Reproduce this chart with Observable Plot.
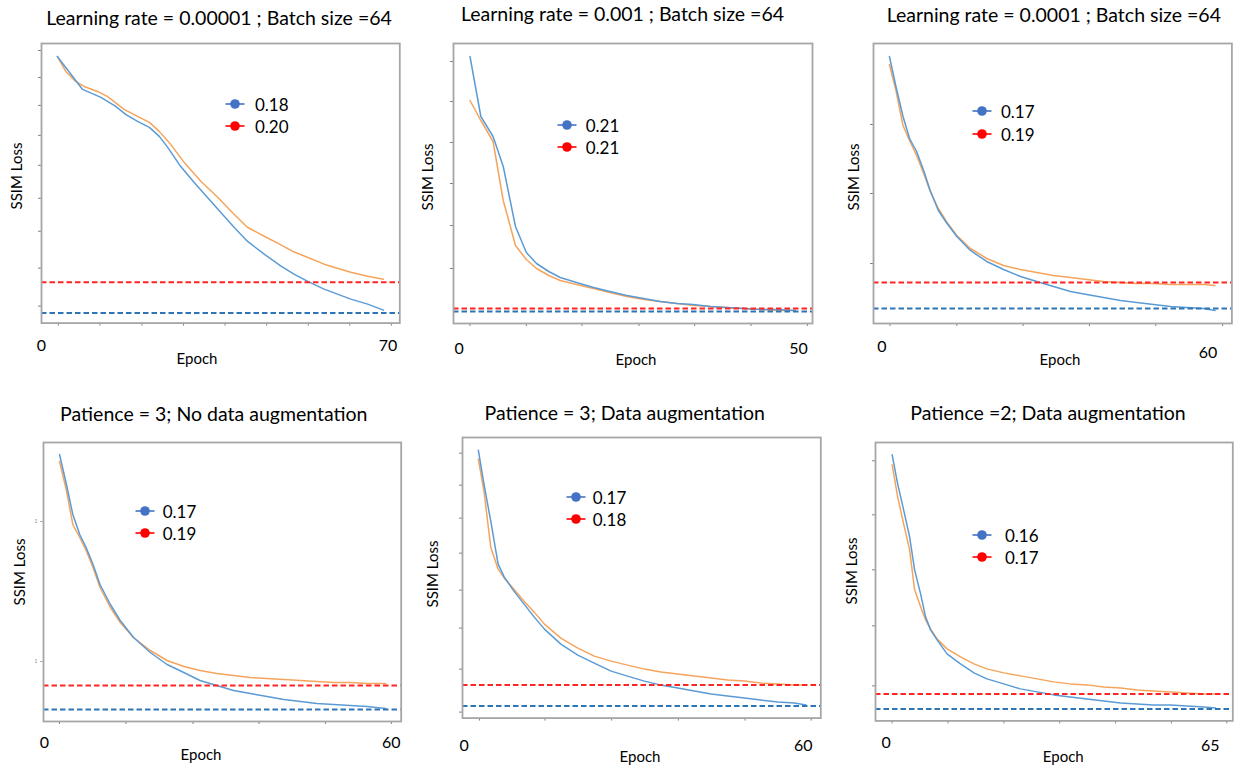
<!DOCTYPE html>
<html>
<head>
<meta charset="utf-8">
<script src="https://cdn.jsdelivr.net/npm/d3@7"></script>
<script src="https://cdn.jsdelivr.net/npm/@observablehq/plot@0.6"></script>
<style>
  html, body { margin: 0; padding: 0; background: #fff; }
  #root { position: relative; width: 1238px; height: 766px; overflow: hidden; font-family: Lato, "Open Sans", sans-serif; color: #000; }
  .abs { position: absolute; white-space: nowrap; }
  .title { font-size: 19.5px; transform: translate(-50%, -50%); }
  .xlab { font-size: 15px; transform: translate(-50%, -50%); }
  .ylab { font-size: 15px; transform: translate(-50%, -50%) rotate(-90deg); }
  .legtext { font-size: 17px; transform: translateY(-50%); }
</style>
</head>
<body>
<div id="root"></div>
<script>
// ---------- Data ----------
const titles = [
  "Learning rate = 0.00001 ; Batch size =64",
  "Learning rate = 0.001 ; Batch size =64",
  "Learning rate = 0.0001 ; Batch size =64",
  "Patience = 3; No data augmentation",
  "Patience = 3; Data augmentation",
  "Patience =2; Data augmentation"
];
const legendBlue = ["0.18", "0.21", "0.17", "0.17", "0.17", "0.16"];
const legendRed  = ["0.20", "0.21", "0.19", "0.19", "0.18", "0.17"];
const xTickLabels = [[0, 70], [0, 50], [0, 60], [0, 60], [0, 60], [0, 65]];

// Panel 1
const p1BlueEpoch = [3.2,4.9,8.3,12.0,15.0,17.0,19.4,21.8,23.8,25.5,28.1,30.8,33.5,36.2,38.9,41.6,45.0,48.4,51.0,54.1,57.1,59.8,62.5,65.9,69.1];
const p1Blue = [0.437,0.426,0.404,0.396,0.387,0.379,0.372,0.366,0.357,0.346,0.327,0.311,0.296,0.281,0.266,0.252,0.239,0.227,0.219,0.211,0.204,0.199,0.194,0.189,0.183];
const p1OrangeEpoch = [3.2,4.9,6.9,8.6,11.3,13.3,16.7,19.4,21.8,23.8,26.1,28.8,32.2,35.6,38.9,41.6,45.0,47.7,50.7,53.7,57.1,59.1,62.5,65.9,69.1];
const p1Orange = [0.437,0.422,0.412,0.407,0.402,0.397,0.384,0.377,0.371,0.362,0.349,0.331,0.312,0.296,0.279,0.266,0.257,0.250,0.242,0.236,0.229,0.226,0.221,0.217,0.214];
const p1Best = [0.180, 0.211];
const p1YTicks = [0.443,0.416,0.388,0.358,0.328,0.295,0.262,0.225,0.187];
const p1XTicks = [3.4,11.8,20.3,28.7,37.1,45.5,53.9,62.3,70.7];

// Panel 2
const p2Epoch = [1.6,3.2,5.0,6.5,8.3,9.9,11.4,13.2,14.9,17.3,19.8,22.2,24.7,27.2,29.6,32.1,34.5,37.0,39.4,41.9,44.4,46.8,49.5];
const p2Blue = [0.465,0.405,0.385,0.355,0.295,0.269,0.258,0.250,0.244,0.239,0.234,0.230,0.226,0.223,0.220,0.218,0.217,0.215,0.214,0.213,0.212,0.212,0.211];
const p2Orange = [0.421,0.401,0.380,0.321,0.276,0.262,0.253,0.246,0.241,0.237,0.233,0.229,0.225,0.222,0.220,0.218,0.216,0.215,0.214,0.213,0.212,0.211,0.211];
const p2Best = [0.210, 0.213];
const p2YTicks = [0.460,0.420,0.379,0.338,0.296,0.253];
const p2XTicks = [1.6,9.9,18.1,26.5,34.7,43.0,51.3];

// Panel 3
const p3Epoch = [1.4,2.6,3.9,5.1,6.4,7.7,8.9,10.4,12.0,13.8,16.3,19.3,22.4,25.5,28.5,31.6,34.7,37.7,40.8,43.9,46.9,50.0,53.1,56.1,59.2,61.3];
const p3Blue = [0.422,0.392,0.362,0.340,0.327,0.308,0.288,0.268,0.255,0.242,0.228,0.217,0.209,0.202,0.197,0.192,0.187,0.184,0.181,0.178,0.176,0.174,0.172,0.171,0.170,0.168];
const p3Orange = [0.414,0.388,0.353,0.338,0.323,0.305,0.287,0.270,0.256,0.243,0.230,0.220,0.213,0.209,0.206,0.203,0.201,0.199,0.197,0.196,0.195,0.195,0.194,0.194,0.194,0.193];
const p3Best = [0.170, 0.196];
const p3YTicks = [0.354,0.285,0.215];
const p3XTicks = [1.5,13.8,26.0,38.2,50.4,62.7];

// Panel 4
const p4Epoch = [2.6,3.8,4.9,6.1,7.2,8.4,9.6,11.4,13.1,15.4,18.3,21.2,24.1,26.9,29.8,32.7,35.6,38.5,41.4,44.3,47.1,50.0,52.9,55.8,59.0];
const p4Blue = [0.425,0.395,0.365,0.345,0.332,0.315,0.295,0.275,0.259,0.242,0.227,0.215,0.207,0.199,0.194,0.189,0.186,0.183,0.180,0.178,0.176,0.175,0.174,0.173,0.171];
const p4Orange = [0.418,0.389,0.355,0.342,0.329,0.312,0.292,0.272,0.257,0.242,0.229,0.219,0.213,0.209,0.206,0.204,0.202,0.201,0.200,0.199,0.198,0.197,0.197,0.196,0.196];
const p4Best = [0.170, 0.194];
const p4YTicks = [0.358,0.218];
const p4XTicks = [2.6,14.1,25.7,37.1,48.6,60.0];

// Panel 5
const p5Epoch = [2.5,3.5,4.7,6.0,7.1,8.8,10.6,12.4,14.2,17.1,20.1,23.0,26.0,28.9,31.9,34.8,37.8,40.7,43.7,46.6,49.6,52.5,55.5,58.4,60.5];
const p5Blue = [0.426,0.392,0.355,0.312,0.299,0.285,0.272,0.259,0.247,0.232,0.221,0.213,0.205,0.200,0.195,0.191,0.188,0.185,0.182,0.180,0.178,0.176,0.174,0.173,0.171];
const p5Orange = [0.417,0.385,0.329,0.307,0.298,0.287,0.275,0.264,0.252,0.238,0.228,0.220,0.215,0.211,0.207,0.204,0.202,0.200,0.198,0.196,0.195,0.193,0.192,0.191,0.191];
const p5Best = [0.170, 0.191];
const p5YTicks = [0.423,0.391,0.358,0.323,0.286,0.248,0.207,0.164];
const p5XTicks = [2.7,14.3,26.1,37.9,49.7,61.4];

// Panel 6
const p6Epoch = [1.2,2.3,3.5,4.7,5.7,6.9,7.9,8.9,10.2,12.2,14.9,17.6,20.2,23.6,26.9,30.3,33.6,36.9,40.3,43.6,47.0,50.3,53.6,57.0,60.3,63.7,66.0];
const p6Blue = [0.414,0.385,0.359,0.332,0.299,0.275,0.252,0.239,0.229,0.215,0.205,0.196,0.190,0.185,0.180,0.177,0.174,0.172,0.170,0.168,0.166,0.165,0.164,0.164,0.163,0.162,0.161];
const p6Orange = [0.404,0.372,0.345,0.319,0.279,0.262,0.249,0.240,0.230,0.220,0.212,0.205,0.200,0.196,0.193,0.190,0.187,0.185,0.184,0.182,0.181,0.179,0.178,0.177,0.176,0.175,0.175];
const p6Best = [0.160, 0.175];
const p6YTicks = [0.408,0.354,0.299,0.243,0.183];
const p6XTicks = [1.2,12.4,23.6,34.8,46.0,57.2,68.3];

// ---------- Layout (page pixels) ----------
const panels = [
  {blueE:p1BlueEpoch, blue:p1Blue, orangeE:p1OrangeEpoch, orange:p1Orange, best:p1Best, yTicks:p1YTicks, xTicks:p1XTicks,
   L:40.7, R:399, T:42.7, B:322.3, xd:[0,72.4], yd:[0.17,0.45], lab0Y:345, lab1Y:345,
   title:[219,17], ylab:[15.7,176], xlab:[197,358], leg:[235,104.3,125.7,255]},
  {blueE:p2Epoch, blue:p2Blue, orangeE:p2Epoch, orange:p2Orange, best:p2Best, yTicks:p2YTicks, xTicks:p2XTicks,
   L:453.3, R:812.3, T:43.3, B:323.3, xd:[-0.83,52.06], yd:[0.198,0.478], lab0Y:348, lab1Y:348,
   title:[622.5,13.3], ylab:[427.3,176.7], xlab:[636,359], leg:[566.7,125,146.7,585.7]},
  {blueE:p3Epoch, blue:p3Blue, orangeE:p3Epoch, orange:p3Orange, best:p3Best, yTicks:p3YTicks, xTicks:p3XTicks,
   L:873.3, R:1231.7, T:43.3, B:323.3, xd:[-1.53,64.4], yd:[0.155,0.435], lab0Y:345.7, lab1Y:352.3,
   title:[1053.8,14], ylab:[853.3,176.7], xlab:[1060,359], leg:[982.3,111,134,1001]},
  {blueE:p4Epoch, blue:p4Blue, orangeE:p4Epoch, orange:p4Orange, best:p4Best, yTicks:p4YTicks, xTicks:p4XTicks, yTickText:"1",
   L:43.3, R:401, T:441.7, B:720.7, xd:[-0.17,61.7], yd:[0.158,0.437], lab0Y:741.7, lab1Y:741.7,
   title:[213.8,413.3], ylab:[19.3,571.7], xlab:[201,754.3], leg:[145,510.7,533.3,162.7]},
  {blueE:p5Epoch, blue:p5Blue, orangeE:p5Epoch, orange:p5Orange, best:p5Best, yTicks:p5YTicks, xTicks:p5XTicks,
   L:461.7, R:820, T:436.7, B:717.3, xd:[-0.3,63.1], yd:[0.158,0.4387], lab0Y:745, lab1Y:745,
   title:[624.7,412.3], ylab:[431.7,574.3], xlab:[640,755.7], leg:[576,496.7,519,592.7]},
  {blueE:p6Epoch, blue:p6Blue, orangeE:p6Epoch, orange:p6Orange, best:p6Best, yTicks:p6YTicks, xTicks:p6XTicks,
   L:875, R:1232.3, T:442.3, B:720.7, xd:[-2.14,69.5], yd:[0.148,0.4263], lab0Y:742.3, lab1Y:745,
   title:[1048,412.3], ylab:[850.7,571], xlab:[1063.3,755.7], leg:[982.3,535,556.7,1005]}
];

const root = document.getElementById("root");
const COLORS = {blueLine:"#5b9bd5", orangeLine:"#f6a45c", blueDash:"#2e75b6", redDash:"#ff2424",
                blueDot:"#4472c4", redDot:"#ff0000", frame:"#a6a6a6", tick:"#7f7f7f"};
const FS_TICK = 16;

function addDiv(cls, text, x, y) {
  const d = document.createElement("div");
  d.className = "abs " + cls;
  d.textContent = text;
  d.style.left = x + "px";
  d.style.top = y + "px";
  root.appendChild(d);
  return d;
}

function addLegendItem(cx, cy, color, label, textX) {
  const ns = "http://www.w3.org/2000/svg";
  const svg = document.createElementNS(ns, "svg");
  svg.setAttribute("width", 24); svg.setAttribute("height", 14);
  svg.style.position = "absolute";
  svg.style.left = (cx - 12) + "px";
  svg.style.top = (cy - 7) + "px";
  const line = document.createElementNS(ns, "line");
  line.setAttribute("x1", 2.5); line.setAttribute("x2", 21.5);
  line.setAttribute("y1", 7); line.setAttribute("y2", 7);
  line.setAttribute("stroke", color); line.setAttribute("stroke-width", 1.6);
  const c = document.createElementNS(ns, "circle");
  c.setAttribute("cx", 12); c.setAttribute("cy", 7); c.setAttribute("r", 4.8);
  c.setAttribute("fill", color);
  svg.appendChild(line); svg.appendChild(c);
  root.appendChild(svg);
  addDiv("legtext", label, textX, cy);
}

panels.forEach((p, i) => {
  const mL = 40, mR = 10, mT = 10, mB = 40;
  const w = (p.R - p.L) + mL + mR;
  const h = (p.B - p.T) + mT + mB;
  const blueRows = p.blueE.map((e, k) => ({epoch: e, loss: p.blue[k]}));
  const orangeRows = p.orangeE.map((e, k) => ({epoch: e, loss: p.orange[k]}));
  const pad0 = (p.lab0Y - p.B) - 0.36 * FS_TICK;
  const pad1 = (p.lab1Y - p.B) - 0.36 * FS_TICK;
  const chart = Plot.plot({
    width: w, height: h,
    marginLeft: mL, marginRight: mR, marginTop: mT, marginBottom: mB,
    x: {domain: p.xd, axis: null},
    y: {domain: p.yd, axis: null},
    style: {background: "transparent", overflow: "visible", fontFamily: "Lato, sans-serif", fontSize: FS_TICK + "px", color: "#000"},
    marks: [
      Plot.axisY({ticks: p.yTicks, tickSize: 3, stroke: p.yTickText ? "#b0b0b0" : COLORS.tick,
                  tickFormat: () => p.yTickText || "", tickPadding: 3, fontSize: 5, fill: "#888", label: null}),
      Plot.axisX({ticks: p.xTicks, tickSize: 3, stroke: COLORS.tick, tickFormat: () => "", label: null}),
      Plot.axisX({ticks: [xTickLabels[i][0]], tickSize: 0, tickPadding: pad0, fontSize: FS_TICK, fill: "#000", label: null, tickFormat: d => String(d)}),
      Plot.axisX({ticks: [xTickLabels[i][1]], tickSize: 0, tickPadding: pad1, fontSize: FS_TICK, fill: "#000", label: null, tickFormat: d => String(d)}),
      Plot.line(orangeRows, {x: "epoch", y: "loss", stroke: COLORS.orangeLine, strokeWidth: 1.5}),
      Plot.line(blueRows, {x: "epoch", y: "loss", stroke: COLORS.blueLine, strokeWidth: 1.5}),
      Plot.ruleY([p.best[0]], {stroke: COLORS.blueDash, strokeWidth: 2, strokeDasharray: "5.5,3"}),
      Plot.ruleY([p.best[1]], {stroke: COLORS.redDash, strokeWidth: 2, strokeDasharray: "5.5,3"}),
      Plot.frame({stroke: COLORS.frame, strokeWidth: 1.8})
    ]
  });
  chart.style.position = "absolute";
  chart.style.left = (p.L - mL) + "px";
  chart.style.top = (p.T - mT) + "px";
  chart.style.maxWidth = "none";
  root.appendChild(chart);

  addDiv("title", titles[i], p.title[0], p.title[1]);
  addDiv("ylab", "SSIM Loss", p.ylab[0], p.ylab[1]);
  addDiv("xlab", "Epoch", p.xlab[0], p.xlab[1]);
  addLegendItem(p.leg[0], p.leg[1], COLORS.blueDot, legendBlue[i], p.leg[3]);
  addLegendItem(p.leg[0], p.leg[2], COLORS.redDot, legendRed[i], p.leg[3]);
});
</script>
</body>
</html>
